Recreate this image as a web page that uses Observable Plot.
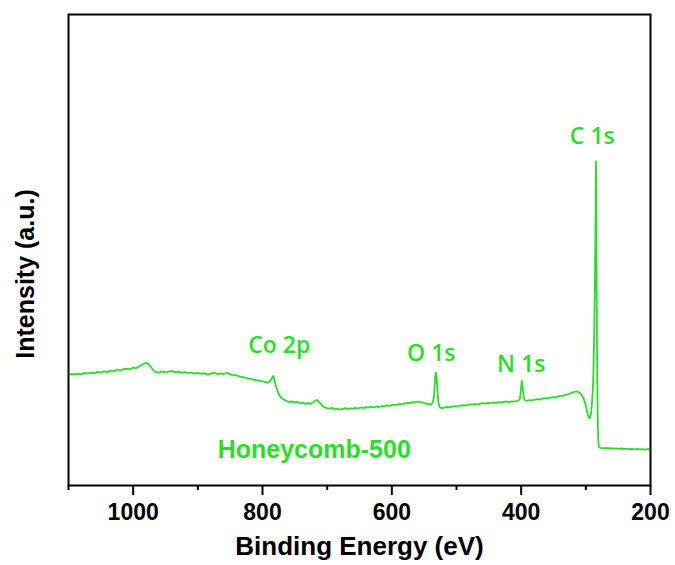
<!DOCTYPE html>
<html>
<head>
<meta charset="utf-8">
<script src="https://cdn.jsdelivr.net/npm/d3@7"></script>
<script src="https://cdn.jsdelivr.net/npm/@observablehq/plot@0.6"></script>
<style>
  html, body { margin: 0; padding: 0; background: #fff; }
  #chart { width: 675px; height: 565px; }
</style>
</head>
<body>
<div id="chart"></div>
<script>
// Binding energy (eV) and intensity (a.u.)
const energy = [
  1100,1095,1090,1085,1080,1075,1070,1065,1060,1055,1050,1045,1040,1035,1030,1025,1020,1015,1010,1005,
  1000,996,992,988,984,980,977,974,971,968,965,960,955,950,945,940,935,930,925,920,
  915,910,905,900,895,890,885,880,875,870,865,860,855,850,845,840,835,830,825,820,
  815,810,805,800,796,792,789,786,784,782.5,781,779,777,775,772,769,766,762,758,754,
  750,746,742,738,734,730,726,722,719,716,713,710,707,704,700,696,692,688,684,680,
  676,672,668,664,660,656,652,648,644,640,636,632,628,624,620,616,612,608,604,600,
  596,592,588,584,580,576,572,568,564,560,556,552,548,544,540,537,535,534,533,532,
  531,530,529,528,526,523,519,515,511,507,503,499,495,491,487,483,479,475,471,467,
  463,459,455,451,447,443,439,435,431,427,423,419,415,411,407,404,402,401,400,399,
  398,397,396,394,391,387,383,379,375,371,367,363,359,355,351,347,343,339,335,331,
  327,323,319,315,312,309,306,303,300,298,296,294,292,290.5,289,288,287,286,285,284.3,
  283.8,283.3,282.8,282.2,281.5,280.5,279.5,277,273,269,265,261,257,253,249,245,241,237,233,229,
  225,221,217,213,209,205,200
];
const intensity = [
  110.5,111.5,110.8,111.9,111.2,112.6,111.8,112.9,112.3,113.6,112.8,114.1,113.4,114.8,114.2,115.9,115.0,116.4,116.9,116.2,
  118.0,117.1,118.6,120.2,121.5,122.6,121.8,119.7,117.2,114.9,113.4,112.8,114.1,113.2,113.9,114.6,113.1,113.8,112.6,113.5,
  112.3,113.0,111.9,112.7,111.6,112.4,110.9,111.8,112.9,111.3,112.2,111.5,112.6,111.0,110.6,110.2,108.9,108.3,107.6,106.8,
  106.1,105.4,104.9,104.2,103.6,102.8,103.9,106.5,109.4,108.5,103.5,99.0,95.0,91.5,88.5,86.8,85.6,84.2,83.5,84.1,
  82.9,83.6,82.2,82.8,81.7,82.5,81.4,83.0,84.6,85.5,84.0,81.6,79.3,78.1,77.4,76.8,77.6,76.2,76.9,75.9,
  76.6,77.3,76.4,77.1,76.8,77.7,77.0,78.0,77.3,78.4,77.8,78.6,78.1,79.0,78.5,79.3,79.0,80.1,79.6,80.4,
  80.9,80.5,81.6,81.2,82.1,82.7,82.3,83.4,83.0,84.0,83.4,82.8,82.0,81.5,81.0,82.6,88.0,97.0,108.0,113.0,
  110.5,101.0,91.0,83.5,78.5,77.2,77.9,78.5,78.0,78.9,79.4,79.0,79.8,80.3,79.9,80.6,81.2,80.8,81.5,81.1,
  81.9,82.4,81.8,82.6,82.2,83.0,82.5,83.3,82.9,83.6,84.1,83.5,84.2,83.8,84.5,85.0,86.5,91.0,99.0,104.5,
  101.0,94.0,88.0,85.2,84.6,85.4,85.0,85.9,86.4,85.8,86.9,87.4,87.0,87.9,88.3,88.0,89.1,89.6,89.9,90.6,
  91.5,92.4,93.3,94.0,93.6,92.4,90.0,86.0,80.0,74.0,68.5,67.0,72.0,82.0,98.0,120.0,155.0,200.0,262.0,324.0,
  290.0,208.0,150.0,100.0,62.0,42.0,38.5,37.6,37.2,37.6,37.0,37.4,36.8,37.2,36.6,37.0,36.5,36.9,36.3,36.7,
  36.2,36.6,36.1,36.4,35.9,36.3,36.0
];

// Peak annotations (label, energy eV, intensity a.u. at label baseline)
const peakNames = ["Co 2p", "O 1s", "N 1s", "C 1s"];
const peakEnergy = [774, 539, 400, 290];
const peakLabelLevel = [133, 125, 114, 342];

const sampleName = ["Honeycomb-500"];
const sampleEnergy = [720];
const sampleLevel = [28];

const majorTicks = [1000, 800, 600, 400, 200];
const minorTicks = [1100, 900, 700, 500, 300];

const spectrum = energy.map((e, i) => ({e, v: intensity[i]}));
const peaks = peakNames.map((n, i) => ({n, e: peakEnergy[i], v: peakLabelLevel[i]}));
const sample = sampleName.map((n, i) => ({n, e: sampleEnergy[i], v: sampleLevel[i]}));

const green = "#2bdc2b";
const axisFont = "'Liberation Sans', Arial, sans-serif";

const chart = Plot.plot({
  width: 675,
  height: 565,
  marginLeft: 68,
  marginRight: 25,
  marginTop: 14,
  marginBottom: 80,
  style: {background: "white", overflow: "visible"},
  x: {domain: [1100, 200]},
  y: {domain: [0, 471], axis: null},
  marks: [
    Plot.line(spectrum, {x: "e", y: "v", stroke: green, strokeWidth: 1.8}),
    Plot.text(peaks, {x: "e", y: "v", text: "n", fill: green, fontSize: 23, fontWeight: 600,
      fontFamily: "'Open Sans', 'Noto Sans', sans-serif", lineAnchor: "bottom", textAnchor: "middle"}),
    Plot.text(sample, {x: "e", y: "v", text: "n", fill: green, fontSize: 25, fontWeight: "bold",
      fontFamily: axisFont, lineAnchor: "bottom", textAnchor: "middle"}),
    Plot.axisX({ticks: minorTicks, tickSize: 5, strokeWidth: 2, tickFormat: () => "", label: null, color: "black"}),
    Plot.axisX({ticks: majorTicks, tickSize: 10, tickPadding: 8, strokeWidth: 2, tickFormat: d => `${d}`,
      label: null, color: "black", fontSize: 23, fontWeight: "bold", fontFamily: axisFont}),
    Plot.text(["Binding Energy (eV)"], {frameAnchor: "bottom", dy: 69, lineAnchor: "bottom",
      fontSize: 26, fontWeight: "bold", fontFamily: axisFont, fill: "black"}),
    Plot.text(["Intensity (a.u.)"], {frameAnchor: "left", dx: -35, dy: 24, rotate: -90,
      textAnchor: "middle", lineAnchor: "bottom",
      fontSize: 25, fontWeight: "bold", fontFamily: axisFont, fill: "black"}),
    Plot.frame({stroke: "black", strokeWidth: 2})
  ]
});
document.getElementById("chart").appendChild(chart);
</script>
</body>
</html>
